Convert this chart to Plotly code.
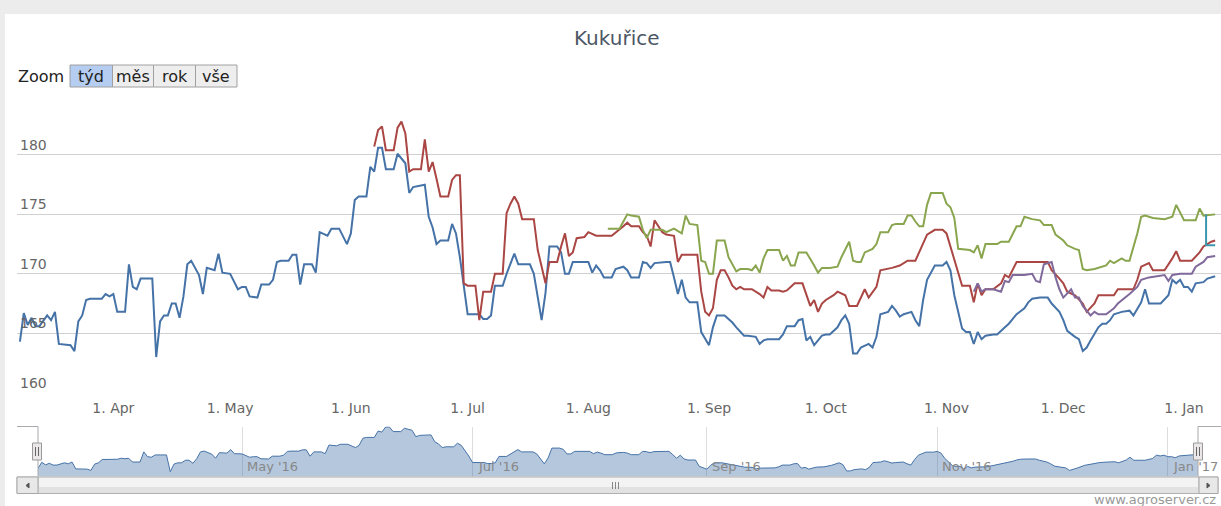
import plotly.graph_objects as go

# ---------------- data ----------------
blue_dates = [
    "2016-03-08", "2016-03-09", "2016-03-10", "2016-03-11", "2016-03-12", "2016-03-13", "2016-03-15", "2016-03-16",
    "2016-03-17", "2016-03-18", "2016-03-21", "2016-03-22", "2016-03-23", "2016-03-24", "2016-03-25", "2016-03-26",
    "2016-03-29", "2016-03-30", "2016-03-31",
    "2016-04-01", "2016-04-02", "2016-04-04", "2016-04-05", "2016-04-06", "2016-04-07", "2016-04-08", "2016-04-11",
    "2016-04-12", "2016-04-13", "2016-04-14", "2016-04-15", "2016-04-16", "2016-04-17", "2016-04-18", "2016-04-19",
    "2016-04-20", "2016-04-21", "2016-04-23", "2016-04-24", "2016-04-25", "2016-04-27", "2016-04-28", "2016-04-29",
    "2016-05-01", "2016-05-03", "2016-05-04", "2016-05-05", "2016-05-06", "2016-05-08", "2016-05-09", "2016-05-11",
    "2016-05-12", "2016-05-13", "2016-05-14", "2016-05-16", "2016-05-17", "2016-05-18", "2016-05-19", "2016-05-20",
    "2016-05-22", "2016-05-23", "2016-05-24", "2016-05-26", "2016-05-27", "2016-05-29", "2016-05-31",
    "2016-06-01", "2016-06-02", "2016-06-03", "2016-06-05", "2016-06-06", "2016-06-07", "2016-06-08", "2016-06-09",
    "2016-06-10", "2016-06-12", "2016-06-13", "2016-06-15", "2016-06-16", "2016-06-17", "2016-06-20", "2016-06-21",
    "2016-06-22", "2016-06-23", "2016-06-24", "2016-06-26", "2016-06-27", "2016-06-28", "2016-06-29", "2016-06-30",
    "2016-07-01", "2016-07-04", "2016-07-05", "2016-07-06", "2016-07-07", "2016-07-08", "2016-07-10", "2016-07-11",
    "2016-07-13", "2016-07-14", "2016-07-17", "2016-07-18", "2016-07-19", "2016-07-20", "2016-07-21", "2016-07-22",
    "2016-07-24", "2016-07-25", "2016-07-26", "2016-07-27", "2016-07-28",
    "2016-08-01", "2016-08-02", "2016-08-03", "2016-08-04", "2016-08-05", "2016-08-07", "2016-08-08", "2016-08-10",
    "2016-08-11", "2016-08-12", "2016-08-14", "2016-08-15", "2016-08-16", "2016-08-17", "2016-08-18", "2016-08-21",
    "2016-08-22", "2016-08-23", "2016-08-24", "2016-08-25", "2016-08-26", "2016-08-27", "2016-08-29", "2016-08-30",
    "2016-08-31",
    "2016-09-01", "2016-09-02", "2016-09-03", "2016-09-05", "2016-09-07", "2016-09-08", "2016-09-10", "2016-09-11",
    "2016-09-13", "2016-09-14", "2016-09-15", "2016-09-16", "2016-09-19", "2016-09-20", "2016-09-21", "2016-09-23",
    "2016-09-24", "2016-09-25", "2016-09-26", "2016-09-27", "2016-09-28", "2016-09-30",
    "2016-10-01", "2016-10-02", "2016-10-04", "2016-10-05", "2016-10-06", "2016-10-07", "2016-10-08", "2016-10-09",
    "2016-10-10", "2016-10-12", "2016-10-13", "2016-10-14", "2016-10-15", "2016-10-17", "2016-10-18", "2016-10-19",
    "2016-10-20", "2016-10-21", "2016-10-23", "2016-10-24", "2016-10-25", "2016-10-26", "2016-10-27", "2016-10-29",
    "2016-10-31",
    "2016-11-01", "2016-11-02", "2016-11-03", "2016-11-05", "2016-11-06", "2016-11-07", "2016-11-08", "2016-11-09",
    "2016-11-10", "2016-11-11", "2016-11-13", "2016-11-14", "2016-11-16", "2016-11-17", "2016-11-19", "2016-11-21",
    "2016-11-22", "2016-11-23", "2016-11-25", "2016-11-27", "2016-11-28", "2016-11-30",
    "2016-12-01", "2016-12-02", "2016-12-04", "2016-12-05", "2016-12-06", "2016-12-07", "2016-12-08", "2016-12-10",
    "2016-12-11", "2016-12-12", "2016-12-13", "2016-12-14", "2016-12-16", "2016-12-18", "2016-12-19", "2016-12-21",
    "2016-12-22", "2016-12-23", "2016-12-26", "2016-12-28", "2016-12-29", "2016-12-30", "2016-12-31",
    "2017-01-01", "2017-01-02", "2017-01-03", "2017-01-04", "2017-01-06", "2017-01-07", "2017-01-08", "2017-01-09",
]
blue_values = [
    164.3, 166.7, 165.7, 166.3, 165.6, 165.6, 166.5, 166.1, 166.8, 164.1, 164.0, 163.5, 166.0, 166.5, 167.8, 167.9,
    167.9, 168.3, 168.1,
    168.3, 166.8, 166.8, 170.8, 168.9, 168.7, 169.6, 169.6, 163.0, 166.0, 166.5, 166.5, 167.5, 167.5, 166.3, 168.1,
    170.8, 171.1, 169.9, 168.3, 170.5, 170.3, 171.7, 170.1,
    170.0, 168.7, 168.9, 168.9, 168.1, 168.0, 169.1, 169.1, 169.5, 171.0, 171.1, 171.1, 171.6, 171.6, 169.1, 170.8,
    170.8, 170.1, 173.5, 173.2, 173.8, 173.8, 172.5,
    173.4, 176.2, 176.5, 176.5, 179.0, 178.6, 180.6, 180.6, 178.8, 178.8, 180.1, 179.3, 176.8, 177.3, 177.5, 174.8,
    173.9, 172.5, 172.8, 172.8, 174.2, 173.4, 171.4, 169.2,
    166.6, 166.6, 166.2, 166.2, 166.5, 169.0, 169.0, 170.0, 171.7, 170.8, 170.8, 170.0, 167.9, 166.1, 168.4, 172.3,
    172.3, 171.8, 170.0, 170.0, 171.0,
    171.0, 170.1, 170.7, 170.3, 169.7, 169.7, 170.4, 170.6, 170.3, 169.7, 169.7, 171.0, 170.9, 170.5, 170.9, 171.0,
    171.0, 169.7, 168.3, 169.5, 168.0, 167.6, 167.6, 165.1, 164.5,
    164.0, 165.5, 166.5, 166.5, 165.9, 165.5, 164.8, 164.8, 164.7, 164.1, 164.4, 164.5, 164.5, 164.9, 165.6, 165.6,
    166.1, 166.2, 164.4, 164.7, 164.0, 164.8,
    164.9, 164.9, 165.5, 166.1, 166.5, 165.8, 163.3, 163.3, 163.8, 164.1, 163.8, 164.7, 166.6, 166.8, 167.3, 166.9,
    166.4, 166.6, 166.8, 166.1, 165.6, 167.8, 169.5, 170.7, 170.7,
    171.0, 170.3, 168.2, 165.4, 165.1, 165.1, 164.1, 165.1, 164.5, 164.8, 164.9, 164.9, 165.5, 165.8, 166.6, 167.1,
    167.6, 167.9, 168.0, 168.0, 167.5, 166.8,
    166.1, 165.2, 164.7, 164.5, 163.5, 163.8, 164.4, 165.5, 165.8, 165.8, 166.1, 166.6, 166.8, 166.9, 166.5, 167.6,
    168.7, 167.5, 167.5, 168.2, 169.5, 169.2, 169.5,
    168.9, 168.9, 168.5, 169.2, 169.3, 169.6, 169.7, 169.8,
]

red_dates = [
    "2016-06-07", "2016-06-08", "2016-06-09", "2016-06-10", "2016-06-12", "2016-06-13", "2016-06-14", "2016-06-15",
    "2016-06-16", "2016-06-17", "2016-06-19", "2016-06-20", "2016-06-21", "2016-06-22", "2016-06-23", "2016-06-24",
    "2016-06-26", "2016-06-27", "2016-06-28", "2016-06-29", "2016-06-30",
    "2016-07-01", "2016-07-03", "2016-07-04", "2016-07-05", "2016-07-07", "2016-07-08", "2016-07-10", "2016-07-11",
    "2016-07-12", "2016-07-13", "2016-07-14", "2016-07-15", "2016-07-18", "2016-07-19", "2016-07-21", "2016-07-22",
    "2016-07-24", "2016-07-25", "2016-07-26", "2016-07-27", "2016-07-28", "2016-07-29", "2016-07-31",
    "2016-08-01", "2016-08-03", "2016-08-07", "2016-08-09", "2016-08-10", "2016-08-11", "2016-08-12", "2016-08-14",
    "2016-08-15", "2016-08-16", "2016-08-17", "2016-08-18", "2016-08-20", "2016-08-21", "2016-08-23", "2016-08-24",
    "2016-08-25", "2016-08-29", "2016-08-30", "2016-08-31",
    "2016-09-01", "2016-09-02", "2016-09-03", "2016-09-04", "2016-09-05", "2016-09-06", "2016-09-07", "2016-09-08",
    "2016-09-09", "2016-09-10", "2016-09-12", "2016-09-14", "2016-09-15", "2016-09-16", "2016-09-17", "2016-09-19",
    "2016-09-20", "2016-09-21", "2016-09-23", "2016-09-25", "2016-09-26", "2016-09-27", "2016-09-28", "2016-09-29",
    "2016-09-30",
    "2016-10-01", "2016-10-03", "2016-10-04", "2016-10-06", "2016-10-07", "2016-10-09", "2016-10-11", "2016-10-12",
    "2016-10-14", "2016-10-15", "2016-10-17", "2016-10-18", "2016-10-20", "2016-10-21", "2016-10-22", "2016-10-24",
    "2016-10-25", "2016-10-27", "2016-10-29", "2016-10-31",
    "2016-11-01", "2016-11-02", "2016-11-04", "2016-11-05", "2016-11-07", "2016-11-08", "2016-11-09", "2016-11-10",
    "2016-11-11", "2016-11-13", "2016-11-15", "2016-11-16", "2016-11-17", "2016-11-19", "2016-11-27", "2016-11-28",
    "2016-11-30",
    "2016-12-01", "2016-12-02", "2016-12-04", "2016-12-06", "2016-12-07", "2016-12-09", "2016-12-10", "2016-12-14",
    "2016-12-15", "2016-12-19", "2016-12-20", "2016-12-21", "2016-12-23", "2016-12-24", "2016-12-27", "2016-12-29",
    "2016-12-30", "2016-12-31",
    "2017-01-03", "2017-01-05", "2017-01-06", "2017-01-08", "2017-01-09",
]
red_values = [
    180.7, 182.1, 182.4, 180.4, 180.4, 182.3, 182.8, 181.8, 178.6, 178.8, 178.8, 181.3, 178.6, 179.4, 178.0, 176.5,
    176.5, 177.9, 178.3, 178.3, 169.2,
    169.0, 169.0, 166.1, 168.5, 168.5, 170.0, 170.0, 175.1, 175.9, 176.5, 175.9, 174.6, 174.6, 172.0, 169.2, 171.0,
    171.0, 172.3, 173.4, 171.5, 171.8, 173.0, 173.1,
    173.5, 173.2, 173.2, 173.7, 174.0, 174.3, 174.0, 174.0, 173.5, 173.2, 172.3, 174.5, 173.5, 173.3, 173.2, 171.0,
    171.6, 171.6, 168.5, 166.8,
    166.5, 167.1, 169.5, 170.3, 170.3, 169.7, 169.0, 168.7, 168.9, 168.7, 168.7, 168.3, 168.0, 168.9, 168.6, 168.6,
    168.5, 168.6, 169.2, 169.2, 168.2, 167.3, 167.8, 166.8, 167.5,
    167.8, 168.2, 168.5, 168.2, 167.3, 167.3, 168.7, 168.0, 168.9, 170.3, 170.4, 170.5, 170.7, 170.9, 171.1, 171.1,
    171.8, 173.3, 173.7, 173.7,
    173.4, 172.3, 170.2, 169.0, 169.0, 167.6, 169.2, 168.2, 168.7, 168.7, 169.2, 169.9, 169.7, 171.0, 171.0, 170.3,
    169.6,
    169.2, 168.5, 168.2, 167.5, 166.8, 167.5, 168.2, 168.2, 168.7, 168.7, 169.5, 170.6, 170.9, 170.3, 170.3, 171.3,
    171.9, 171.1,
    171.1, 171.8, 172.3, 172.7, 172.8,
]

green_dates = [
    "2016-08-06", "2016-08-09", "2016-08-10", "2016-08-11", "2016-08-12", "2016-08-14", "2016-08-15", "2016-08-16",
    "2016-08-17", "2016-08-20", "2016-08-21", "2016-08-23", "2016-08-25", "2016-08-26", "2016-08-27", "2016-08-29",
    "2016-08-30", "2016-08-31",
    "2016-09-01", "2016-09-02", "2016-09-03", "2016-09-05", "2016-09-06", "2016-09-08", "2016-09-09", "2016-09-11",
    "2016-09-12", "2016-09-13", "2016-09-14", "2016-09-15", "2016-09-16", "2016-09-19", "2016-09-20", "2016-09-21",
    "2016-09-22", "2016-09-23", "2016-09-24", "2016-09-26", "2016-09-28", "2016-09-29", "2016-09-30",
    "2016-10-02", "2016-10-04", "2016-10-05", "2016-10-07", "2016-10-08", "2016-10-09", "2016-10-10", "2016-10-11",
    "2016-10-13", "2016-10-14", "2016-10-15", "2016-10-17", "2016-10-18", "2016-10-19", "2016-10-21", "2016-10-22",
    "2016-10-23", "2016-10-24", "2016-10-25", "2016-10-26", "2016-10-27", "2016-10-28", "2016-10-31",
    "2016-11-01", "2016-11-02", "2016-11-03", "2016-11-04", "2016-11-07", "2016-11-08", "2016-11-09", "2016-11-10",
    "2016-11-11", "2016-11-14", "2016-11-15", "2016-11-17", "2016-11-19", "2016-11-20", "2016-11-21", "2016-11-23",
    "2016-11-25", "2016-11-26", "2016-11-28", "2016-11-29",
    "2016-12-01", "2016-12-02", "2016-12-04", "2016-12-05", "2016-12-06", "2016-12-07", "2016-12-09", "2016-12-10",
    "2016-12-12", "2016-12-13", "2016-12-14", "2016-12-16", "2016-12-17", "2016-12-18", "2016-12-20", "2016-12-21",
    "2016-12-22", "2016-12-24", "2016-12-27", "2016-12-29", "2016-12-30",
    "2017-01-01", "2017-01-04", "2017-01-05", "2017-01-06", "2017-01-09",
]
green_values = [
    173.8, 173.8, 174.4, 175.0, 174.9, 174.8, 173.7, 173.0, 173.7, 173.7, 173.5, 173.8, 173.4, 174.9, 174.2, 174.1,
    171.1, 171.0,
    170.0, 170.0, 172.8, 172.8, 171.4, 170.2, 170.4, 170.4, 170.3, 170.7, 170.1, 171.3, 172.0, 172.0, 171.1, 171.5,
    170.7, 170.7, 171.8, 171.8, 170.7, 170.1, 170.5,
    170.5, 170.6, 171.4, 172.7, 171.1, 171.0, 171.0, 171.8, 172.1, 172.5, 173.5, 173.5, 174.1, 174.2, 174.2, 174.9,
    174.9, 174.4, 174.0, 174.0, 175.8, 176.8, 176.8,
    175.9, 175.6, 174.7, 172.1, 172.0, 171.8, 172.4, 171.3, 172.5, 172.5, 172.7, 172.7, 174.0, 174.0, 174.8, 174.6,
    174.5, 174.1, 174.1, 173.3,
    172.8, 172.4, 172.1, 172.0, 170.4, 170.3, 170.4, 170.5, 170.7, 171.1, 170.9, 171.3, 171.1, 171.1, 173.4, 174.8,
    174.9, 174.7, 174.6, 174.8, 175.8,
    174.5, 174.5, 175.5, 174.9, 175.0,
]

purple_dates = [
    "2016-11-08", "2016-11-09", "2016-11-10", "2016-11-11", "2016-11-13", "2016-11-15", "2016-11-16", "2016-11-17",
    "2016-11-18", "2016-11-21", "2016-11-23", "2016-11-24", "2016-11-25", "2016-11-26", "2016-11-28", "2016-11-29",
    "2016-11-30",
    "2016-12-01", "2016-12-03", "2016-12-04", "2016-12-05", "2016-12-06", "2016-12-08", "2016-12-09", "2016-12-10",
    "2016-12-12", "2016-12-14", "2016-12-15", "2016-12-18", "2016-12-20", "2016-12-21", "2016-12-23", "2016-12-27",
    "2016-12-28", "2016-12-29", "2016-12-31",
    "2017-01-03", "2017-01-04", "2017-01-06", "2017-01-07", "2017-01-09",
]
purple_values = [
    168.5, 169.2, 168.5, 168.7, 168.7, 168.5, 169.4, 169.3, 169.9, 169.9, 170.0, 169.4, 169.3, 170.8, 171.0, 169.7,
    168.7,
    168.0, 168.7, 168.0, 168.0, 167.3, 166.5, 166.8, 166.6, 166.6, 167.1, 167.5, 168.3, 168.9, 169.5, 169.7, 169.9,
    169.4, 169.9, 170.0,
    170.0, 170.6, 171.0, 171.4, 171.5,
]

cyan_dates = ["2017-01-06 16:00", "2017-01-06 16:00", "2017-01-09"]
cyan_values = [175.0, 172.4, 172.4]

main_tick_dates = ["2016-04-01", "2016-05-01", "2016-06-01", "2016-07-01", "2016-08-01",
                   "2016-09-01", "2016-10-01", "2016-11-01", "2016-12-01", "2017-01-01"]
main_tick_labels = ["1. Apr", "1. May", "1. Jun", "1. Jul", "1. Aug",
                    "1. Sep", "1. Oct", "1. Nov", "1. Dec", "1. Jan"]
y_tick_values = [160, 165, 170, 175, 180, 185]
y_tick_labels = ["160", "165", "170", "175", "180", ""]
nav_tick_dates = ["2016-05-01", "2016-07-01", "2016-09-01", "2016-11-01", "2017-01-01"]
nav_tick_labels = ["May '16", "Jul '16", "Sep '16", "Nov '16", "Jan '17"]

series = [
    (blue_dates, blue_values, "#4572A7"),
    (red_dates, red_values, "#AA4643"),
    (green_dates, green_values, "#89A54E"),
    (purple_dates, purple_values, "#80699B"),
    (cyan_dates, cyan_values, "#3D96AE"),
]
for d, v, _ in series:
    assert len(d) == len(v)

# ---------------- layout helpers (pixels -> paper) ----------------
W, H = 1221, 506
FONT = "DejaVu Sans"


def fx(px):
    return px / W


def fy(py):
    return 1 - py / H


fig = go.Figure()

for d, v, c in series:
    fig.add_trace(go.Scatter(x=d, y=v, mode="lines", line=dict(color=c, width=2),
                             xaxis="x", yaxis="y", hoverinfo="x+y"))

# navigator (first series as area)
fig.add_trace(go.Scatter(x=blue_dates, y=blue_values, mode="lines", fill="tozeroy",
                         fillcolor="rgba(69,114,167,0.40)", line=dict(color="#4572A7", width=1),
                         xaxis="x2", yaxis="y2", hoverinfo="skip"))

shapes = []
annotations = []

# white chart container
shapes.append(dict(type="rect", xref="paper", yref="paper", x0=fx(5), x1=1, y0=0, y1=fy(14),
                   fillcolor="white", line=dict(width=0), layer="below"))

# title
annotations.append(dict(text="Kukuřice", x=fx(617), y=fy(38), xref="paper", yref="paper",
                        xanchor="center", yanchor="middle", showarrow=False,
                        font=dict(family=FONT, size=20, color="#4d5766")))

# range selector
annotations.append(dict(text="Zoom", x=fx(16), y=fy(76.5), xref="paper", yref="paper",
                        xanchor="left", yanchor="middle", showarrow=False,
                        font=dict(family=FONT, size=16, color="#222")))
buttons = [("týd", 70, 112.5, True), ("měs", 112.5, 153.5, False),
           ("rok", 153.5, 195.5, False), ("vše", 195.5, 237, False)]
for lbl, x0, x1, sel in buttons:
    shapes.append(dict(type="rect", xref="paper", yref="paper", x0=fx(x0), x1=fx(x1),
                       y0=fy(87), y1=fy(65), fillcolor="#b4cdf0" if sel else "#eeeeee",
                       line=dict(color="#a0a0a0", width=1), layer="above"))
    annotations.append(dict(text=lbl, x=fx((x0 + x1) / 2), y=fy(76.5), xref="paper", yref="paper",
                            xanchor="center", yanchor="middle", showarrow=False,
                            font=dict(family=FONT, size=16, color="#222")))

# navigator tick labels (placed on the navigator's date axis)
for d, lbl in zip(nav_tick_dates, nav_tick_labels):
    annotations.append(dict(text=lbl, x=d, xref="x2", y=fy(466), yref="paper",
                            xanchor="left", yanchor="middle", xshift=3, showarrow=False,
                            font=dict(family=FONT, size=13, color="#888")))

# navigator outline
for (x0, y0, x1, y1) in [(17, 426.5, 38, 426.5), (38, 426.5, 38, 476),
                         (1198, 426.5, 1198, 476), (1198, 426.5, 1221, 426.5)]:
    shapes.append(dict(type="line", xref="paper", yref="paper", x0=fx(x0), y0=fy(y0),
                       x1=fx(x1), y1=fy(y1), line=dict(color="#a9a9ae", width=1), layer="above"))

# handles
for cx in (37, 1198):
    shapes.append(dict(type="rect", xref="paper", yref="paper", x0=fx(cx - 4.5), x1=fx(cx + 4.5),
                       y0=fy(460), y1=fy(443), fillcolor="#ebe7e8",
                       line=dict(color="#9a9a9a", width=1), layer="above"))
    for gx in (cx - 1.5, cx + 1.5):
        shapes.append(dict(type="line", xref="paper", yref="paper", x0=fx(gx), x1=fx(gx),
                           y0=fy(447), y1=fy(456), line=dict(color="#666", width=1), layer="above"))

# scrollbar
shapes.append(dict(type="rect", xref="paper", yref="paper", x0=fx(17), x1=fx(1218), y0=fy(493.5), y1=fy(477),
                   fillcolor="#eeeeee", line=dict(color="#b8b8b8", width=1), layer="above"))
shapes.append(dict(type="rect", xref="paper", yref="paper", x0=fx(38), x1=fx(1199), y0=fy(493.5), y1=fy(477),
                   fillcolor="#f3f3f3", line=dict(color="#b0b0b0", width=1), layer="above"))
shapes.append(dict(type="rect", xref="paper", yref="paper", x0=fx(38.5), x1=fx(1198.5), y0=fy(493), y1=fy(487),
                   fillcolor="#e2e2e2", line=dict(width=0), layer="above"))
for bx0, bx1 in ((17, 38), (1199, 1218)):
    shapes.append(dict(type="rect", xref="paper", yref="paper", x0=fx(bx0), x1=fx(bx1), y0=fy(493.5), y1=fy(477),
                       fillcolor="#e8e8e8", line=dict(color="#a8a8a8", width=1), layer="above"))
# arrows
shapes.append(dict(type="path", xref="paper", yref="paper",
                   path=f"M {fx(29)} {fy(483)} L {fx(26)} {fy(485.5)} L {fx(29)} {fy(488)} Z",
                   fillcolor="#555", line=dict(color="#555", width=1), layer="above"))
shapes.append(dict(type="path", xref="paper", yref="paper",
                   path=f"M {fx(1207)} {fy(483)} L {fx(1210)} {fy(485.5)} L {fx(1207)} {fy(488)} Z",
                   fillcolor="#555", line=dict(color="#555", width=1), layer="above"))
for gx in (612.5, 615.5, 618.5):
    shapes.append(dict(type="line", xref="paper", yref="paper", x0=fx(gx), x1=fx(gx),
                       y0=fy(482), y1=fy(489), line=dict(color="#888", width=1), layer="above"))

# credits
annotations.append(dict(text="www.agroserver.cz", x=fx(1218), y=fy(499.5), xref="paper", yref="paper",
                        xanchor="right", yanchor="middle", showarrow=False,
                        font=dict(family=FONT, size=13, color="#999")))

fig.update_layout(
    width=W, height=H, autosize=False,
    margin=dict(l=0, r=0, t=0, b=0, pad=0),
    paper_bgcolor="#ececec",
    plot_bgcolor="rgba(0,0,0,0)",
    showlegend=False,
    font=dict(family=FONT),
    shapes=shapes,
    annotations=annotations,
    xaxis=dict(type="date", domain=[fx(17), 1], range=["2016-03-07 06:00", "2017-01-10 12:00"],
               tickmode="array", tickvals=main_tick_dates, ticktext=main_tick_labels,
               showgrid=False, zeroline=False, showline=False, ticks="", ticklabelstandoff=5,
               tickfont=dict(family=FONT, size=14, color="#666"), anchor="y", fixedrange=True),
    yaxis=dict(domain=[fy(392.7), fy(95.5)], range=[160, 185],
               tickmode="array", tickvals=y_tick_values, ticktext=y_tick_labels,
               showgrid=True, gridcolor="#d0d0d0", gridwidth=1, zeroline=False, showline=False,
               ticklabelposition="inside top", tickfont=dict(family=FONT, size=14, color="#666"),
               anchor="x", fixedrange=True),
    xaxis2=dict(type="date", domain=[fx(38), fx(1198)], range=["2016-03-08", "2017-01-09"],
                tickmode="array", tickvals=nav_tick_dates, showticklabels=False,
                showgrid=True, gridcolor="#dddddd", zeroline=False, showline=False, ticks="",
                anchor="y2", fixedrange=True),
    yaxis2=dict(domain=[fy(476), fy(426.5)], range=[161.3, 180.8], visible=False,
                anchor="x2", fixedrange=True),
)

fig.write_html("out.html", config={"displayModeBar": False, "responsive": False},
               post_script="document.body.style.margin='0';document.body.style.overflow='hidden';")
